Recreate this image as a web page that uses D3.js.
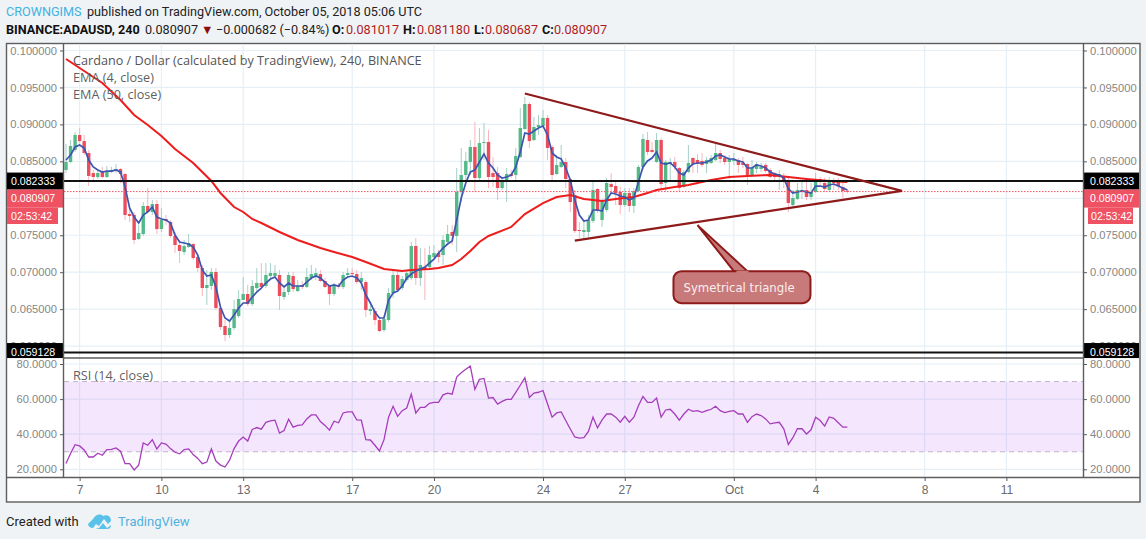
<!DOCTYPE html>
<html>
<head>
<meta charset="utf-8">
<script src="https://cdnjs.cloudflare.com/ajax/libs/d3/7.8.5/d3.min.js"></script>
<style>
  html, body { margin: 0; padding: 0; background: #f0f3f6; }
  svg { display: block; }
  text { font-family: "Open Sans", sans-serif; }
  .tick text { font-family: "Liberation Sans", Arial, sans-serif; font-size: 11.2px; fill: #868686; }
  .tick line { stroke: #5a5a5a; }
  .domain { display: none; }
</style>
</head>
<body>
<svg id="chart" width="1146" height="539"></svg>
<script>
const firstBar = new Date(Date.UTC(2018, 8, 6, 12));
const lastTick = new Date(Date.UTC(2018, 9, 11));

const opens = [
  0.08383,0.08491,0.08654,0.08857,0.08775,0.08613,0.08342,0.08288,0.08356,0.08288,
  0.08356,0.08369,0.08396,0.08329,0.07787,0.07774,0.07449,0.07517,0.07896,0.07815,
  0.07923,0.07584,0.07720,0.07679,0.07490,0.07368,0.07273,0.07341,0.07381,0.07206,
  0.07057,0.06786,0.06813,0.07003,0.06515,0.06272,0.06150,0.06245,0.06407,0.06624,
  0.06705,0.06569,0.06786,0.06854,0.06813,0.06948,0.06948,0.06962,0.06664,0.06732,
  0.06948,0.06745,0.06827,0.06800,0.06921,0.06948,0.06975,0.06881,0.06813,0.06705,
  0.06827,0.06800,0.06962,0.06989,0.06975,0.06867,0.06867,0.06475,0.06475,0.06353,
  0.06218,0.06353,0.06718,0.06962,0.06786,0.06894,0.06921,0.07354,0.06921,0.07070,
  0.07070,0.07206,0.07260,0.07233,0.07409,0.07544,0.07490,0.08085,0.08315,0.08491,
  0.08694,0.08275,0.08748,0.08762,0.08342,0.08342,0.08139,0.08221,0.08329,0.08315,
  0.08559,0.08938,0.09276,0.08789,0.08965,0.08978,0.09087,0.08694,0.08329,0.08424,
  0.08491,0.08261,0.08045,0.07571,0.07544,0.07544,0.07693,0.08126,0.07706,0.07842,
  0.08193,0.08166,0.08085,0.07909,0.08072,0.07896,0.08099,0.08424,0.08789,0.08654,
  0.08491,0.08789,0.08207,0.08464,0.08491,0.08410,0.08153,0.08356,0.08545,0.08518,
  0.08505,0.08464,0.08478,0.08518,0.08613,0.08545,0.08491,0.08505,0.08518,0.08478,
  0.08464,0.08315,0.08396,0.08396,0.08451,0.08383,0.08342,0.08288,0.08288,0.08248,
  0.07909,0.07990,0.08085,0.08112,0.08018,0.08085,0.08261,0.08207,0.08112,0.08248,
  0.08234,0.08153,0.081017
];
const highs = [
  0.08735,0.08789,0.08897,0.08951,0.08857,0.08654,0.08383,0.08383,0.08424,0.08437,
  0.08424,0.08464,0.08410,0.08342,0.07869,0.07815,0.07639,0.07950,0.08139,0.07977,
  0.07977,0.07869,0.07774,0.07706,0.07544,0.07436,0.07436,0.07517,0.07395,0.07233,
  0.07097,0.07030,0.07057,0.07057,0.06556,0.06353,0.06353,0.06624,0.06759,0.06935,
  0.06827,0.06894,0.07057,0.07124,0.07124,0.07124,0.07097,0.07030,0.06827,0.07003,
  0.07003,0.06894,0.06881,0.07057,0.07097,0.07057,0.07030,0.06921,0.06827,0.06854,
  0.06854,0.07003,0.07057,0.07057,0.07030,0.07003,0.06894,0.06556,0.06515,0.06380,
  0.06421,0.06786,0.07043,0.07030,0.06948,0.07030,0.07409,0.07463,0.07327,0.07327,
  0.07354,0.07368,0.07300,0.07503,0.07639,0.07639,0.08410,0.08681,0.08627,0.08789,
  0.09033,0.08951,0.09019,0.08924,0.08559,0.08424,0.08288,0.08410,0.08383,0.08681,
  0.09222,0.09371,0.09303,0.09100,0.09127,0.09195,0.09127,0.08721,0.08586,0.08721,
  0.08545,0.08275,0.08112,0.07679,0.07706,0.07774,0.08248,0.08139,0.07990,0.08275,
  0.08342,0.08221,0.08153,0.08139,0.08139,0.08139,0.08451,0.08870,0.08897,0.08762,
  0.08884,0.08816,0.08518,0.08545,0.08559,0.08424,0.08383,0.08721,0.08559,0.08600,
  0.08613,0.08559,0.08586,0.08735,0.08654,0.08586,0.08586,0.08613,0.08545,0.08559,
  0.08478,0.08518,0.08491,0.08478,0.08478,0.08410,0.08356,0.08383,0.08342,0.08275,
  0.08112,0.08207,0.08221,0.08221,0.08207,0.08342,0.08288,0.08275,0.08288,0.08275,
  0.08275,0.08248,0.081180
];
const lows = [
  0.08342,0.08478,0.08627,0.08748,0.08586,0.08166,0.08248,0.08261,0.08275,0.08275,
  0.08342,0.08342,0.08207,0.07706,0.07679,0.07381,0.07436,0.07490,0.07801,0.07774,
  0.07517,0.07544,0.07639,0.07463,0.07260,0.07124,0.07233,0.07327,0.07165,0.07003,
  0.06678,0.06556,0.06759,0.06488,0.06218,0.06069,0.06110,0.06218,0.06380,0.06624,
  0.06542,0.06542,0.06732,0.06759,0.06786,0.06921,0.06921,0.06488,0.06624,0.06691,
  0.06732,0.06732,0.06772,0.06786,0.06894,0.06894,0.06867,0.06786,0.06556,0.06678,
  0.06772,0.06772,0.06935,0.06948,0.06840,0.06759,0.06394,0.06421,0.06285,0.06191,
  0.06191,0.06326,0.06651,0.06732,0.06759,0.06867,0.06894,0.06827,0.06813,0.06624,
  0.07057,0.07192,0.07124,0.07097,0.07395,0.07368,0.07273,0.07950,0.08248,0.08315,
  0.08085,0.08248,0.08518,0.08139,0.08153,0.07977,0.08112,0.07950,0.08275,0.08248,
  0.08545,0.08924,0.08681,0.08775,0.08857,0.08965,0.08518,0.08234,0.08315,0.08410,
  0.08139,0.07815,0.07530,0.07463,0.07449,0.07476,0.07666,0.07801,0.07612,0.07815,
  0.08085,0.07909,0.07787,0.07882,0.07815,0.07801,0.08085,0.08383,0.08586,0.08613,
  0.08478,0.08112,0.08085,0.08221,0.08383,0.08085,0.08139,0.08342,0.08342,0.08342,
  0.08424,0.08342,0.08464,0.08505,0.08478,0.08451,0.08261,0.08451,0.08342,0.08410,
  0.08180,0.08288,0.08342,0.08356,0.08342,0.08275,0.08221,0.08112,0.08139,0.07815,
  0.07882,0.07977,0.07990,0.07977,0.07977,0.08072,0.08180,0.08085,0.08085,0.08112,
  0.08112,0.08004,0.080687
];
const closes = [
  0.08491,0.08708,0.08857,0.08775,0.08613,0.08302,0.08288,0.08342,0.08288,0.08356,
  0.08383,0.08396,0.08329,0.07774,0.07760,0.07436,0.07530,0.07896,0.07815,0.07923,
  0.07584,0.07706,0.07693,0.07490,0.07368,0.07287,0.07354,0.07395,0.07192,0.07057,
  0.06786,0.06827,0.07003,0.06515,0.06258,0.06150,0.06245,0.06502,0.06637,0.06705,
  0.06569,0.06813,0.06854,0.06800,0.06962,0.06989,0.06989,0.06678,0.06732,0.06962,
  0.06772,0.06813,0.06800,0.06935,0.06975,0.06989,0.06881,0.06800,0.06705,0.06827,
  0.06800,0.06962,0.06989,0.06975,0.06867,0.06921,0.06488,0.06502,0.06353,0.06204,
  0.06366,0.06718,0.06962,0.06759,0.06908,0.06989,0.07354,0.06921,0.07097,0.07030,
  0.07233,0.07260,0.07206,0.07436,0.07517,0.07490,0.08085,0.08315,0.08505,0.08694,
  0.08275,0.08748,0.08762,0.08288,0.08288,0.08139,0.08221,0.08329,0.08302,0.08572,
  0.08951,0.09276,0.08775,0.08965,0.08992,0.09087,0.08681,0.08315,0.08451,0.08491,
  0.08261,0.07950,0.07557,0.07557,0.07571,0.07706,0.08112,0.07828,0.07977,0.08207,
  0.08153,0.08072,0.07909,0.08072,0.07896,0.08099,0.08424,0.08803,0.08627,0.08627,
  0.08789,0.08193,0.08491,0.08491,0.08424,0.08139,0.08356,0.08478,0.08464,0.08464,
  0.08451,0.08518,0.08545,0.08613,0.08532,0.08491,0.08532,0.08532,0.08451,0.08451,
  0.08315,0.08410,0.08464,0.08424,0.08369,0.08288,0.08288,0.08329,0.08221,0.07936,
  0.08004,0.08112,0.08112,0.08018,0.08085,0.08261,0.08221,0.08126,0.08234,0.08207,
  0.08166,0.08099,0.080907
];
const emaFast = [
  0.08518,0.08586,0.08694,0.08721,0.08681,0.08518,0.08424,0.08383,0.08356,0.08369,
  0.08369,0.08383,0.08356,0.08153,0.07869,0.07747,0.07666,0.07774,0.07815,0.07882,
  0.07747,0.07720,0.07706,0.07666,0.07503,0.07409,0.07395,0.07381,0.07341,0.07233,
  0.07030,0.06948,0.06962,0.06800,0.06529,0.06380,0.06339,0.06421,0.06515,0.06583,
  0.06583,0.06664,0.06732,0.06786,0.06854,0.06908,0.06935,0.06854,0.06800,0.06854,
  0.06813,0.06813,0.06813,0.06867,0.06921,0.06948,0.06921,0.06867,0.06813,0.06827,
  0.06813,0.06894,0.06935,0.06948,0.06921,0.06854,0.06691,0.06583,0.06461,0.06380,
  0.06380,0.06624,0.06718,0.06745,0.06813,0.06921,0.06975,0.07016,0.07043,0.07070,
  0.07124,0.07178,0.07260,0.07327,0.07381,0.07422,0.07706,0.08004,0.08207,0.08356,
  0.08383,0.08491,0.08600,0.08478,0.08410,0.08315,0.08275,0.08288,0.08315,0.08424,
  0.08627,0.08884,0.08870,0.08911,0.08951,0.08978,0.08857,0.08613,0.08559,0.08532,
  0.08410,0.08248,0.07977,0.07774,0.07693,0.07706,0.07842,0.07842,0.07828,0.07977,
  0.08072,0.08058,0.08031,0.08018,0.07977,0.08004,0.08221,0.08424,0.08505,0.08545,
  0.08627,0.08478,0.08464,0.08478,0.08424,0.08342,0.08315,0.08410,0.08464,0.08478,
  0.08478,0.08491,0.08518,0.08572,0.08586,0.08559,0.08532,0.08532,0.08505,0.08491,
  0.08410,0.08410,0.08451,0.08437,0.08410,0.08356,0.08329,0.08315,0.08275,0.08126,
  0.08072,0.08085,0.08099,0.08085,0.08072,0.08166,0.08166,0.08153,0.08180,0.08193,
  0.08166,0.08139,0.08112
];
// slow EMA read at fewer bars, the line is smooth
const emaSlowBars = [0,3,8,12,15,18,21,24,28,32,34,37,39,41,43,47,51,56,59,63,66,70,74,76,80,82,85,87,89,91,93,98,101,105,108,111,114,118,121,125,128,130,134,137,142,146,150,155,159,163,168,172];
const emaSlow = [
  0.09885,0.09763,0.09560,0.09330,0.09127,0.08992,0.08843,0.08667,0.08478,0.08234,
  0.08072,0.07882,0.07815,0.07720,0.07666,0.07544,0.07436,0.07327,0.07273,0.07206,
  0.07138,0.07043,0.07016,0.07030,0.07043,0.07057,0.07097,0.07178,0.07287,0.07409,
  0.07490,0.07612,0.07787,0.07936,0.08018,0.08045,0.07990,0.07963,0.07990,0.08018,
  0.08072,0.08112,0.08153,0.08180,0.08248,0.08288,0.08302,0.08315,0.08288,0.08261,
  0.08234,0.08221
];
const rsi = [
  23.3,29,34,33.3,31,27,27,29.2,28,31.2,
  31.4,32.2,30.3,23.2,23.2,19.6,22.4,35,33.7,36.9,
  31.6,35,34.4,31.8,29.7,28.8,31.2,31.6,28.4,26.2,
  23.2,24.1,31.6,24.7,22.4,21.3,25.2,31.8,36.1,38.4,
  36.1,42.7,43.8,42.9,46.8,47.6,48,40.6,42.1,48.5,
  44,45,45.3,48.7,51,51,47.2,45,42.3,47.4,
  46.5,52.1,52.7,52.7,48.2,48,36.9,36.7,33.7,30.5,
  36.9,49.7,55.9,50.2,53.4,54.9,62.8,52.1,55.3,55.3,
  57.6,58.1,58.1,62.4,63.4,62.8,72.6,75,77,78.8,
  65.6,71.3,71.8,60.6,60.9,57.2,58.7,59.8,59.8,63.8,
  67.9,72.2,60.9,63.4,63.9,64.9,57.2,49.7,52.1,52.7,
  47.8,43,38.4,37.8,38,41.6,49.7,43.6,48.2,51.5,
  51.5,49.7,46.8,50.2,46.8,49.7,56.2,61.5,58.1,58.1,
  60.6,49.7,53.8,54.2,51.5,48,51.5,54.2,53,53.4,
  52.5,53.4,54.2,55.9,53.4,52.3,53,53.4,51.5,51.5,
  46.8,50,51.5,50.6,48.7,45.9,46.5,46.8,43.1,34.2,
  38,43.1,43.1,40.1,42.5,49.7,47.8,44.6,49.8,49,
  46.5,44,44
];
const priceTicks = [0.06, 0.065, 0.07, 0.075, 0.08, 0.085, 0.09, 0.095, 0.1];
const hiddenPriceLabel = 0.08; // sits under the last price tag
const rsiTicks = [20, 40, 60, 80];
const rsiBand = [30, 70];
const timeTicks = ["2018-09-07","2018-09-10","2018-09-13","2018-09-17","2018-09-20","2018-09-24","2018-09-27","2018-10-01","2018-10-04","2018-10-08","2018-10-11"];
const timeLabels = ["7","10","13","17","20","24","27","Oct","4","8","11"];
const levels = [0.082333, 0.059128];
const lastPrice = 0.080907;
const countdown = "02:53:42";
const triangleTime = ["2018-09-23T08:00Z", "2018-09-25T04:00Z", "2018-10-07T04:00Z"];
const trianglePrice = [0.09418, 0.07427, 0.0810];
const calloutTarget = ["2018-09-29T16:00Z", 0.07637];

const X0 = 64, X1 = 1083, MAIN_TOP = 44, MAIN_BOTTOM = 358, RSI_BOTTOM = 477, FRAME_BOTTOM = 502, FRAME_RIGHT = 1140;
const barTime = i => new Date(+firstBar + i * 4 * 3600 * 1000);

const x = d3.scaleUtc().domain([firstBar, lastTick]).range([66, 66 + 207 * 4.543]);
const y = d3.scaleLinear().domain([0.06, 0.1]).range([346.1, 50.5]);
const yRsi = d3.scaleLinear().domain([20, 80]).range([469.3, 364]);

const svg = d3.select("#chart");
const defs = svg.append("defs");
defs.append("clipPath").attr("id", "main").append("rect").attr("x", X0).attr("y", MAIN_TOP).attr("width", X1 - X0).attr("height", MAIN_BOTTOM - MAIN_TOP);

// frame
svg.append("rect").attr("x", 6.5).attr("y", 43.5).attr("width", FRAME_RIGHT - 6.5).attr("height", FRAME_BOTTOM - 43.5).attr("fill", "#fff").attr("stroke", "#5d5d5d").attr("stroke-width", 1.4);

// grid
const tickDates = timeTicks.map(d => new Date(d + "T00:00Z"));
const grid = svg.append("g").attr("stroke", "#e6eff6").attr("stroke-width", 1.2);
grid.selectAll(".v").data(tickDates).join("line").attr("x1", d => x(d)).attr("x2", d => x(d)).attr("y1", MAIN_TOP).attr("y2", RSI_BOTTOM);
grid.selectAll(".h").data(priceTicks).join("line").attr("x1", X0).attr("x2", X1).attr("y1", d => y(d)).attr("y2", d => y(d));
grid.selectAll(".r").data(rsiTicks).join("line").attr("x1", X0).attr("x2", X1).attr("y1", d => yRsi(d)).attr("y2", d => yRsi(d));

// rsi band
svg.append("rect").attr("x", X0).attr("width", X1 - X0).attr("y", yRsi(rsiBand[1])).attr("height", yRsi(rsiBand[0]) - yRsi(rsiBand[1])).attr("fill", "#9b1fe8").attr("opacity", 0.105);
svg.append("g").selectAll("line").data(rsiBand).join("line")
  .attr("x1", X0).attr("x2", X1).attr("y1", d => yRsi(d)).attr("y2", d => yRsi(d))
  .attr("stroke", "#c3b3cb").attr("stroke-dasharray", "5,4");

// candles
const bars = d3.range(closes.length);
const main = svg.append("g").attr("clip-path", "url(#main)");
const candle = main.append("g").selectAll("g").data(bars).join("g");
candle.append("line")
  .attr("x1", i => x(barTime(i))).attr("x2", i => x(barTime(i)))
  .attr("y1", i => y(highs[i])).attr("y2", i => y(lows[i]))
  .attr("stroke", i => closes[i] >= opens[i] ? "#a5cfc8" : "#f6b6bd").attr("stroke-width", 1);
candle.append("rect")
  .attr("x", i => x(barTime(i)) - 1.7).attr("width", 3.4)
  .attr("y", i => y(Math.max(opens[i], closes[i])))
  .attr("height", i => Math.max(1, Math.abs(y(opens[i]) - y(closes[i]))))
  .attr("fill", i => closes[i] >= opens[i] ? "#53b987" : "#eb4d5c");

// emas
const lineFast = d3.line().x((d, i) => x(barTime(i))).y(d => y(d));
const lineSlow = d3.line().x((d, i) => x(barTime(emaSlowBars[i]))).y(d => y(d));
main.append("path").attr("d", lineSlow(emaSlow)).attr("fill", "none").attr("stroke", "#ee1c1c").attr("stroke-width", 2);
main.append("path").attr("d", lineFast(emaFast)).attr("fill", "none").attr("stroke", "#3c55b0").attr("stroke-width", 1.7);

// level lines
main.selectAll(".lvl").data(levels).join("line")
  .attr("x1", X0).attr("x2", X1).attr("y1", d => y(d)).attr("y2", d => y(d))
  .attr("stroke", "#111").attr("stroke-width", 2);
main.append("line").attr("x1", X0).attr("x2", X1).attr("y1", y(lastPrice)).attr("y2", y(lastPrice))
  .attr("stroke", "#ef5261").attr("stroke-dasharray", "1.5,1.5");

// triangle
const tri = triangleTime.map((t, i) => [x(new Date(t)), y(trianglePrice[i])]);
main.append("path").attr("d", d3.line()([tri[0], tri[2], tri[1]])).attr("fill", "none").attr("stroke", "#8e1a1a").attr("stroke-width", 2.2);

// callout, box is placed relative to the point it marks
const tipX = x(new Date(calloutTarget[0])), tipY = y(calloutTarget[1]);
const boxX = tipX - 24, boxY = tipY + 46, boxW = 137, boxH = 32;
main.append("path")
  .attr("d", `M${tipX},${tipY}L${tipX + 38},${boxY + 2}L${tipX + 52},${boxY + 2}Z`)
  .attr("fill", "#c87a7a").attr("stroke", "#8e1a1a").attr("stroke-width", 2);
main.append("rect").attr("x", boxX).attr("y", boxY).attr("width", boxW).attr("height", boxH).attr("rx", 8)
  .attr("fill", "#c87a7a").attr("stroke", "#8e1a1a").attr("stroke-width", 2);
main.append("path")
  .attr("d", `M${tipX + 39},${boxY + 1}L${tipX + 51},${boxY + 1}`).attr("stroke", "#c87a7a").attr("stroke-width", 3);
main.append("text").attr("x", boxX + 10).attr("y", boxY + 21).attr("fill", "#fbeeee")
  .style("font-family", "'DejaVu Sans'").style("font-size", "11.7px").text("Symetrical triangle");

// rsi line
svg.append("path").attr("d", d3.line().x((d, i) => x(barTime(i))).y(d => yRsi(d))(rsi))
  .attr("fill", "none").attr("stroke", "#a53dbb").attr("stroke-width", 1.3);

// axes
const fmt6 = d => d === hiddenPriceLabel ? "" : d3.format(".6f")(d), fmt4 = d3.format(".4f");
svg.append("g").attr("transform", `translate(${X0},0)`).call(d3.axisLeft(y).tickValues(priceTicks).tickFormat(fmt6).tickSize(4).tickPadding(3));
svg.append("g").attr("transform", `translate(${X1},0)`).call(d3.axisRight(y).tickValues(priceTicks).tickFormat(fmt6).tickSize(4).tickPadding(3));
svg.append("g").attr("transform", `translate(${X0},0)`).call(d3.axisLeft(yRsi).tickValues(rsiTicks).tickFormat(fmt4).tickSize(4).tickPadding(3));
svg.append("g").attr("transform", `translate(${X1},0)`).call(d3.axisRight(yRsi).tickValues(rsiTicks).tickFormat(fmt4).tickSize(4).tickPadding(3));
const timeAxis = svg.append("g").attr("transform", `translate(0,${RSI_BOTTOM})`)
  .call(d3.axisBottom(x).tickValues(tickDates).tickFormat((d, i) => timeLabels[i]).tickSize(4).tickPadding(4));
timeAxis.selectAll("text").style("fill", "#6a6a6a").style("font-size", "12px");

// price labels on both scales
function priceTag(value, fill, shift, h) {
  [[7, 56, 11], [X1, 56, 1090]].forEach(([lx, w, tx]) => {
    svg.append("rect").attr("x", lx).attr("y", y(value) + shift - 8.5).attr("width", w).attr("height", h).attr("fill", fill);
    svg.append("text").attr("x", tx).attr("y", y(value) + shift + 4).attr("fill", "#fff")
      .style("font-family", "'Liberation Sans'").style("font-size", "10.6px").text(d3.format(".6f")(value));
  });
}
priceTag(levels[0], "#000", 0, 17);
priceTag(lastPrice, "#ee5263", 6.5, 18);
priceTag(levels[1], "#000", -1, 15);
[[7, 51, 11], [1088, 45, 1091]].forEach(([lx, w, tx]) => {
  svg.append("rect").attr("x", lx).attr("y", 207.5).attr("width", w).attr("height", 16.5).attr("fill", "#ee5263");
  svg.append("text").attr("x", tx).attr("y", 220).attr("fill", "#fff")
    .style("font-family", "'Liberation Sans'").style("font-size", "10.6px").text(countdown);
});

// pane separators
const sep = svg.append("g").attr("stroke", "#5d5d5d").attr("stroke-width", 1.4);
[[X0 - 0.5, MAIN_TOP, X0 - 0.5, RSI_BOTTOM], [X1 + 0.5, MAIN_TOP, X1 + 0.5, RSI_BOTTOM], [6.5, RSI_BOTTOM + 0.5, FRAME_RIGHT, RSI_BOTTOM + 0.5]]
  .forEach(p => sep.append("line").attr("x1", p[0]).attr("y1", p[1]).attr("x2", p[2]).attr("y2", p[3]));
sep.append("line").attr("x1", X0).attr("y1", MAIN_BOTTOM).attr("x2", X1).attr("y2", MAIN_BOTTOM);

// legends
const legend = [["Cardano / Dollar (calculated by TradingView), 240, BINANCE", 65, "#555"], ["EMA (4, close)", 82, "#5f5f5f"], ["EMA (50, close)", 99, "#5f5f5f"], ["RSI (14, close)", 380, "#5f5f5f"]];
svg.append("g").selectAll("text").data(legend).join("text")
  .attr("x", 73).attr("y", d => d[1]).attr("fill", d => d[2]).style("font-size", "12.65px").text(d => d[0]);

// header
const header = [
  ["CROWNGIMS", 6, 16, "#3eb2e2", 400],
  ["published on TradingView.com, October 05, 2018 05:06 UTC", 87, 16, "#222", 400],
  ["BINANCE:ADAUSD, 240", 6, 34, "#111", 700],
  ["0.080907", 145, 34, "#222", 400],
  ["▼", 201, 34, "#8b0d0d", 400],
  ["−0.000682 (−0.84%)", 216, 34, "#222", 400],
  ["O:", 332, 34, "#111", 700], ["0.081017", 346, 34, "#b01c1c", 400],
  ["H:", 403, 34, "#111", 700], ["0.081180", 417, 34, "#b01c1c", 400],
  ["L:", 474, 34, "#111", 700], ["0.080687", 485, 34, "#b01c1c", 400],
  ["C:", 542, 34, "#111", 700], ["0.080907", 554, 34, "#b01c1c", 400]
];
svg.append("g").selectAll("text").data(header).join("text")
  .attr("x", d => d[1]).attr("y", d => d[2]).attr("fill", d => d[3]).attr("font-weight", d => d[4])
  .style("font-family", "Roboto").style("font-size", "12.65px").text(d => d[0]);

// footer
svg.append("text").attr("x", 6).attr("y", 526).attr("fill", "#222").style("font-family", "Roboto").style("font-size", "13px").text("Created with");
svg.append("path").attr("transform", "translate(88,513)")
  .attr("d", "M0,11 L5,6 C7,2 12,0 15,3 C19,1 23,3 23,8 L20,11 L16,6 L11,13 L8,11 L5,15 C2,15 0,13 0,11Z M7,16 L11,15 L15,10 L19,15 L23,12 C23,14 22,16 19,16Z")
  .attr("fill", "#5ac2e8");
svg.append("text").attr("x", 118).attr("y", 526).attr("fill", "#4fb1e0").style("font-family", "Roboto").style("font-size", "13px").text("TradingView");
</script>
</body>
</html>
